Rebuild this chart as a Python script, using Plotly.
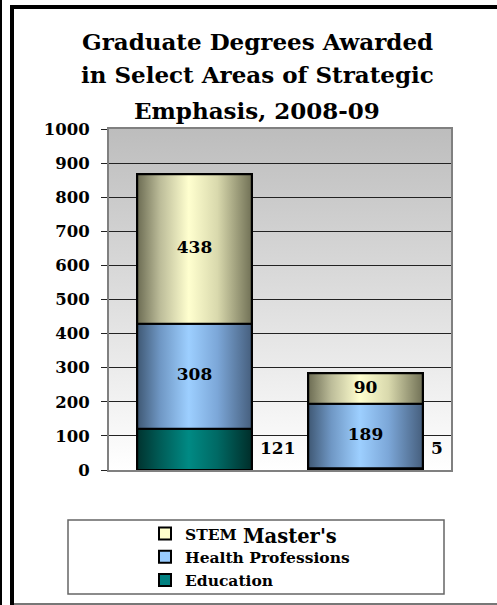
import base64
import plotly.graph_objects as go

# chart text and values
title_lines = ["Graduate Degrees Awarded", "in Select Areas of Strategic", "Emphasis, 2008-09"]
axis_caption = "Master's"
bar_positions = [0, 1]
education = [121, 5]
health = [308, 189]
stem = [438, 90]
y_ticks = [0, 100, 200, 300, 400, 500, 600, 700, 800, 900, 1000]

# figure geometry (pixels)
W, H = 497, 605
L, R, T, B = 109, 451, 129, 470
BAR_W = 0.67
EDU_LABEL_Y = 64
FONT = "DejaVu Serif"
TITLE_MID = [41, 75, 110]


def px(x):
    return (x - L) / (R - L)


def py(y):
    return (B - y) / (B - T)


series = [
    ("Education", education, "#008080", 3,
     [[0, "#00332f"], [0.2, "#005c57"], [0.45, "#008a84"], [0.7, "#006964"], [1, "#002e2a"]]),
    ("Health Professions", health, "#99ccff", 2,
     [[0, "#3f5874"], [0.2, "#6f97c4"], [0.45, "#9dcfff"], [0.7, "#7ca7d8"], [1, "#465f7e"]]),
    ("STEM", stem, "#ffffcc", 1,
     [[0, "#6c6c53"], [0.2, "#bcbc99"], [0.45, "#ffffcf"], [0.7, "#d9d9ad"], [1, "#717156"]]),
]

fig = go.Figure()

# legend carriers (real bars, painted over by the shaded ones below)
for name, vals, solid, rank, scale in series:
    fig.add_bar(x=bar_positions, y=vals, name=name, width=BAR_W, legendrank=rank,
                marker=dict(color=solid, line=dict(color="black", width=2)),
                hoverinfo="skip")

# shaded bar segments
base = [0] * len(bar_positions)
text_x, text_y, text_v = [], [], []
for name, vals, solid, rank, scale in series:
    for i, v in enumerate(vals):
        x0 = bar_positions[i] - BAR_W / 2
        x1 = bar_positions[i] + BAR_W / 2
        y0, y1 = base[i], base[i] + v
        fig.add_scatter(x=[x0, x1, x1, x0, x0], y=[y0, y0, y1, y1, y0],
                        mode="lines", fill="toself",
                        fillgradient=dict(type="horizontal", colorscale=scale),
                        line=dict(color="black", width=2),
                        showlegend=False, hoverinfo="skip")
        if name != "Education":
            text_x.append(bar_positions[i])
            text_y.append((y0 + y1) / 2)
            text_v.append(str(v))
    base = [b + v for b, v in zip(base, vals)]

fig.add_scatter(x=text_x, y=text_y, text=text_v, mode="text", showlegend=False,
                textfont=dict(family=FONT, size=17, color="black", weight="bold"),
                hoverinfo="skip")

# education labels sit just right of each bar
for i, v in enumerate(education):
    fig.add_annotation(x=bar_positions[i] + BAR_W / 2, y=EDU_LABEL_Y, xref="x", yref="y",
                       text=str(v), showarrow=False, xanchor="left", xshift=6,
                       font=dict(family=FONT, size=17, color="black", weight="bold"))

# title, one line per annotation for the wider line spacing
for line, mid in zip(title_lines, TITLE_MID):
    fig.add_annotation(x=px(257), y=py(mid), xref="paper", yref="paper", text=line,
                       showarrow=False, xanchor="center", yanchor="middle",
                       font=dict(family=FONT, size=23, color="black", weight="bold"))

fig.add_annotation(x=px(290), y=py(536), xref="paper", yref="paper", text=axis_caption,
                   showarrow=False, xanchor="center", yanchor="middle",
                   font=dict(family=FONT, size=19.5, color="black", weight="bold"))

# plot area gradient background
svg = ('<svg xmlns="http://www.w3.org/2000/svg" width="10" height="100" viewBox="0 0 10 100" '
       'preserveAspectRatio="none"><defs><linearGradient id="g" x1="0" y1="0" x2="0" y2="1">'
       '<stop offset="0" stop-color="#bdbdbd"/><stop offset="1" stop-color="#ffffff"/>'
       '</linearGradient></defs><rect width="10" height="100" fill="url(#g)"/></svg>')
src = "data:image/svg+xml;base64," + base64.b64encode(svg.encode()).decode()
fig.add_layout_image(source=src, xref="x", yref="y", x=-0.5, y=1000, sizex=2, sizey=1000,
                     xanchor="left", yanchor="top", sizing="stretch", layer="below")

# outer frame and legend box
frame = [
    (0, 0, 2, 605, "black"),
    (10, 5, 14, 605, "black"),
    (10, 5, 497, 9, "black"),
    (14, 603, 497, 605, "#777777"),
]
for x0, y0, x1, y1, c in frame:
    fig.add_shape(type="rect", xref="paper", yref="paper", x0=px(x0), x1=px(x1),
                  y0=py(y0), y1=py(y1), fillcolor=c, line_width=0, layer="below")
fig.add_shape(type="rect", xref="paper", yref="paper", x0=px(68), x1=px(444),
              y0=py(520), y1=py(594), line=dict(color="#666666", width=1.5),
              fillcolor="white", layer="below")

fig.update_layout(
    width=W, height=H,
    margin=dict(l=L, r=W - R, t=T, b=H - B, pad=0, autoexpand=False),
    paper_bgcolor="white", plot_bgcolor="white",
    barmode="stack",
    legend=dict(x=px(145), xanchor="left", y=py(517), yanchor="top",
                traceorder="normal", bgcolor="rgba(0,0,0,0)",
                font=dict(family=FONT, size=15.5, color="black", weight="bold")),
    xaxis=dict(range=[-0.5, 1.5], showticklabels=False, ticks="", showgrid=False,
               zeroline=False, showline=True, linecolor="#808080", linewidth=2, mirror=True),
    yaxis=dict(range=[0, 1000], tickvals=y_ticks, ticks="outside", ticklen=6,
               tickcolor="#222222", showline=True, linecolor="#808080", linewidth=2,
               mirror=True, showgrid=True, gridcolor="#222222", gridwidth=1,
               zeroline=False, ticklabelstandoff=8,
               tickfont=dict(family=FONT, size=16.5, color="black", weight="bold")),
)

fig.write_html("out.html", config={"displayModeBar": False},
               post_script="document.body.style.margin = '0';")
